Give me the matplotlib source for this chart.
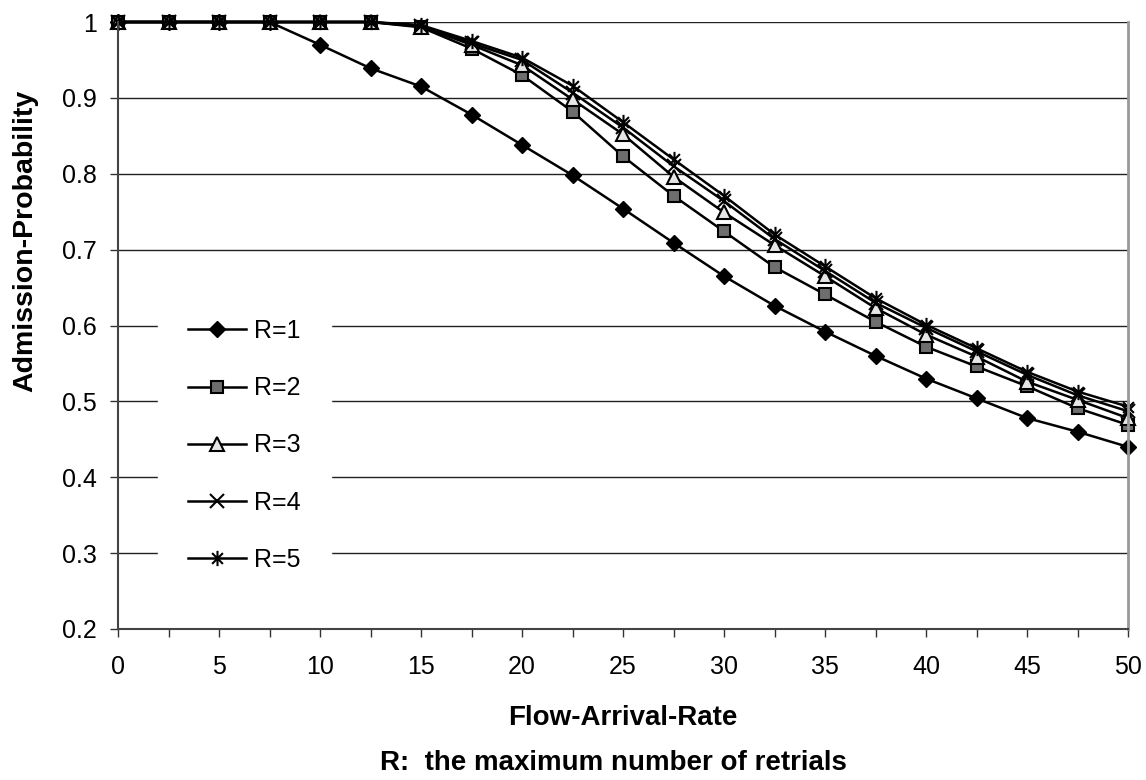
import numpy as np
import matplotlib.pyplot as plt
from matplotlib.path import Path

plt.rcParams['font.family'] = ['Liberation Sans', 'DejaVu Sans']

rate = [0, 2.5, 5, 7.5, 10, 12.5, 15, 17.5, 20, 22.5, 25, 27.5, 30, 32.5, 35,
        37.5, 40, 42.5, 45, 47.5, 50]

r1 = [1, 1, 1, 1, 0.970, 0.939, 0.915, 0.878, 0.838, 0.798, 0.754, 0.709, 0.665,
      0.626, 0.592, 0.560, 0.530, 0.504, 0.478, 0.460, 0.440]
r2 = [1, 1, 1, 1, 1, 1, 0.993, 0.965, 0.930, 0.882, 0.823, 0.771, 0.724,
      0.677, 0.641, 0.605, 0.572, 0.546, 0.520, 0.491, 0.469]
r3 = [1, 1, 1, 1, 1, 1, 0.994, 0.970, 0.943, 0.898, 0.852, 0.796, 0.749,
      0.706, 0.665, 0.623, 0.588, 0.559, 0.526, 0.502, 0.478]
r4 = [1, 1, 1, 1, 1, 1, 0.995, 0.972, 0.950, 0.907, 0.861, 0.810, 0.764,
      0.714, 0.672, 0.630, 0.597, 0.566, 0.535, 0.508, 0.487]
r5 = [1, 1, 1, 1, 1, 1, 0.996, 0.975, 0.953, 0.916, 0.868, 0.819, 0.771,
      0.720, 0.678, 0.636, 0.601, 0.570, 0.539, 0.513, 0.493]

labels = ['R=1', 'R=2', 'R=3', 'R=4', 'R=5']

# asterisk marker: x plus a vertical bar
c = 0.7071
asterisk = Path([(-c, -c), (c, c), (-c, c), (c, -c), (0, -1), (0, 1)],
                [Path.MOVETO, Path.LINETO, Path.MOVETO, Path.LINETO,
                 Path.MOVETO, Path.LINETO])

styles = [
    dict(marker='D', ms=8, mfc='black', mec='black', mew=1),
    dict(marker='s', ms=9, mfc='#6e6e6e', mec='black', mew=1.5),
    dict(marker='^', ms=10, mfc='#e6e6e6', mec='black', mew=1.5),
    dict(marker='x', ms=10, mfc='none', mec='black', mew=1.5),
    dict(marker=asterisk, ms=11, mfc='none', mec='black', mew=1.5),
]

W, H = 1146, 780
fig = plt.figure(figsize=(W / 100, H / 100), dpi=100)
ax = fig.add_axes([118 / W, 1 - 629 / H, 1010 / W, 607 / H])

for ys, lab, st in zip([r1, r2, r3, r4, r5], labels, styles):
    ax.plot(rate, ys, color='black', lw=1.8, label=lab, clip_on=False, **st)

ax.set_xlim(0, 50)
ax.set_ylim(0.2, 1.0)
ax.set_xticks(np.arange(0, 51, 5))
ax.set_xticks(np.arange(0, 51, 2.5), minor=True)
ax.set_yticks(np.arange(0.2, 1.01, 0.1))
ax.set_yticklabels(['0.2', '0.3', '0.4', '0.5', '0.6', '0.7', '0.8', '0.9', '1'])
ax.tick_params(axis='both', which='both', direction='out', length=6,
               width=1, color='#333333', labelsize=18)
ax.tick_params(axis='x', which='major', pad=13)
ax.tick_params(axis='y', pad=9)

ax.grid(axis='y', color='#222222', lw=1)
ax.set_axisbelow(True)
for side in ['left', 'bottom']:
    ax.spines[side].set_color('#444444')
    ax.spines[side].set_linewidth(1.5)
ax.spines['right'].set_color('#999999')
ax.spines['right'].set_linewidth(2)
ax.spines['top'].set_visible(False)

fig.text(623 / W, 1 - 725 / H, 'Flow-Arrival-Rate', ha='center', va='baseline',
         fontsize=20, fontweight='bold')
fig.text(613 / W, 1 - 770 / H, 'R:  the maximum number of retrials',
         ha='center', va='baseline', fontsize=20, fontweight='bold')
fig.text(25 / W, 1 - 241 / H, 'Admission-Probability', ha='center', va='center',
         rotation=90, fontsize=20.5, fontweight='bold')

leg = ax.legend(loc='upper left', bbox_to_anchor=(158 / W, 1 - 289 / H),
                bbox_transform=fig.transFigure, borderaxespad=0, frameon=True,
                fontsize=18, labelspacing=1.33, handlelength=2.3,
                handletextpad=0.35, borderpad=1.2, fancybox=False)
leg.get_frame().set_edgecolor('white')
leg.get_frame().set_facecolor('white')
leg.get_frame().set_alpha(1)

fig.savefig('out.png', dpi=100)
